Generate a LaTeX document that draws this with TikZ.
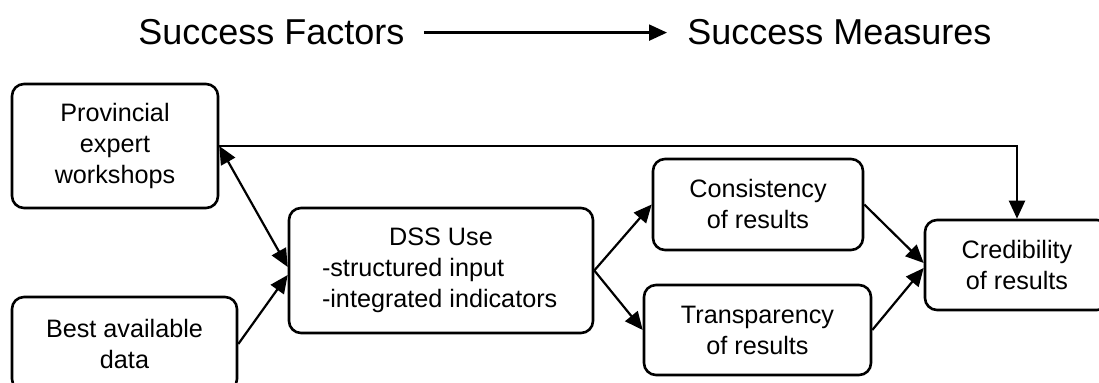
\documentclass[tikz,border=0pt]{standalone}
\usepackage{fontspec}
\setmainfont{Liberation Sans}
\usetikzlibrary{arrows.meta}

\tikzset{
    >={Triangle[length=9pt, width=8pt]},
    box/.style={draw, line width=1.3pt, rounded corners=6pt, align=center,
        font=\fontsize{12.6}{15.5}\selectfont},
    head/.style={anchor=base west, inner sep=0pt, font=\fontsize{18}{22}\selectfont},
    link/.style={line width=1.1pt, ->},
}

\begin{document}
\begin{tikzpicture}[x=0.5pt, y=-0.5pt]
    \useasboundingbox (0,0) rectangle (1099,383);
    \clip (0,0) rectangle (1099,383);
    % heading
    \node[head] (factors) at (138,45) {Success Factors};
    \node[head] (measures) at (687,45) {Success Measures};
    \draw[link] ([xshift=9.5pt]factors.east) -- ([xshift=-10pt]measures.west);
    % factors
    \node[box, minimum width=103pt, minimum height=62pt] (prov) at (115,146) {Provincial\\expert\\workshops};
    \node[box, minimum width=112.5pt, minimum height=47pt] (data) at (124.5,344) {Best available\\data};
    \node[box, minimum width=152pt, minimum height=62.5pt] (dss) at (441,270.5)
        {DSS Use\\\makebox[119pt][l]{-structured input}\\\makebox[119pt][l]{-integrated indicators}};
    % measures
    \node[box, minimum width=105pt, minimum height=45.5pt] (cons) at (758,204.5) {Consistency\\of results};
    \node[box, minimum width=113.5pt, minimum height=45pt] (trans) at (757.5,330) {Transparency\\of results};
    \node[box, minimum width=92pt, minimum height=45pt] (cred) at (1017,265) {Credibility\\of results};
    % links
    \draw[link, <->] (prov.east) -- ([yshift=1.75pt]dss.west);
    \draw[link] (data.east) -- ([yshift=-2.25pt]dss.west);
    \draw[link] (dss.east) -- (cons.west);
    \draw[link] (dss.east) -- (trans.west);
    \draw[link] (cons.east) -- ([yshift=1pt]cred.west);
    \draw[link] (trans.east) -- ([yshift=-1.5pt]cred.west);
    \draw[link] (prov.east) -| (cred.north);
\end{tikzpicture}
\end{document}
